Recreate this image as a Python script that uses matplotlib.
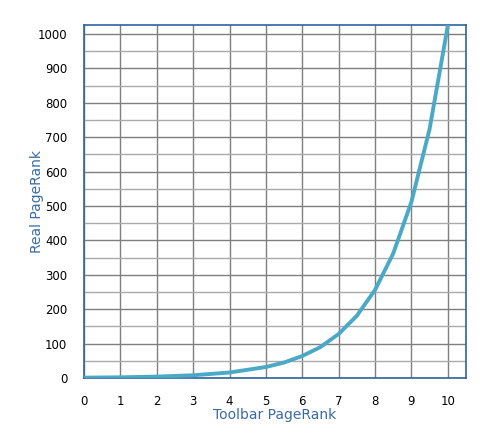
import matplotlib
matplotlib.use("Agg")
import matplotlib.pyplot as plt
from matplotlib.ticker import MultipleLocator

toolbar_pr = [0, 1, 2, 3, 4, 5, 5.5, 6, 6.5, 7, 7.5, 8, 8.5, 9, 9.5, 10]
real_pr = [1, 2, 4, 8, 16, 32, 45, 64, 90, 128, 181, 256, 362, 512, 724, 1024]
x_ticks = list(range(0, 11))
y_ticks = list(range(0, 1001, 100))

fig = plt.figure(figsize=(4.92, 4.43), dpi=100)
ax = fig.add_axes([84/492, 65/443, (466-84)/492, (378-25)/443])

ax.set_xlim(0, 10.5)
ax.set_ylim(0, 1026)
ax.set_xticks(x_ticks)
ax.set_yticks(y_ticks)
ax.yaxis.set_minor_locator(MultipleLocator(50))

ax.grid(which='major', axis='both', color='#7f7f7f', linewidth=1.0)
ax.grid(which='minor', axis='y', color='#aaaaaa', linewidth=1.0)
ax.set_axisbelow(True)

ax.plot(toolbar_pr, real_pr, color='#4aa9c6', linewidth=2.8,
        solid_capstyle='round', solid_joinstyle='round', zorder=3)

for s in ax.spines.values():
    s.set_color('#2e64a0')
    s.set_linewidth(1.2)

ax.tick_params(which='both', length=0, labelsize=8.5, colors='black')
ax.tick_params(axis='y', pad=12)
ax.tick_params(axis='x', pad=12)

ax.set_xlabel('Toolbar PageRank', color='#3a6aa5', fontsize=10, labelpad=0)
ax.set_ylabel('Real PageRank', color='#3a6aa5', fontsize=10)
ax.yaxis.set_label_coords(-0.105, 0.5)

fig.savefig('out.png', dpi=100)
